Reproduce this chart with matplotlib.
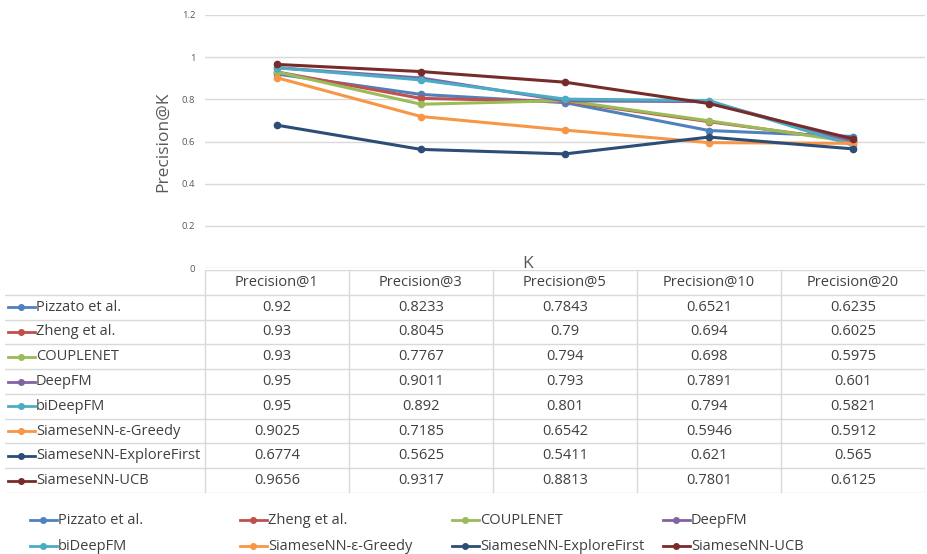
import matplotlib
matplotlib.use("Agg")
import matplotlib.pyplot as plt

categories = ["Precision@1", "Precision@3", "Precision@5", "Precision@10", "Precision@20"]
series_names = ["Pizzato et al.", "Zheng et al.", "COUPLENET", "DeepFM", "biDeepFM",
                "SiameseNN-\u03b5-Greedy", "SiameseNN-ExploreFirst", "SiameseNN-UCB"]
pizzato = [0.92, 0.8233, 0.7843, 0.6521, 0.6235]
zheng = [0.93, 0.8045, 0.79, 0.694, 0.6025]
couplenet = [0.93, 0.7767, 0.794, 0.698, 0.5975]
deepfm = [0.95, 0.9011, 0.793, 0.7891, 0.601]
bideepfm = [0.95, 0.892, 0.801, 0.794, 0.5821]
greedy = [0.9025, 0.7185, 0.6542, 0.5946, 0.5912]
explorefirst = [0.6774, 0.5625, 0.5411, 0.621, 0.565]
ucb = [0.9656, 0.9317, 0.8813, 0.7801, 0.6125]
series_values = [pizzato, zheng, couplenet, deepfm, bideepfm, greedy, explorefirst, ucb]
colors = ["#4F81BD", "#C0504D", "#9BBB59", "#8064A2", "#4BACC6", "#F79646", "#2C4D75", "#772C2A"]
yticks = [0, 0.2, 0.4, 0.6, 0.8, 1.0, 1.2]
ytick_labels = ["0", "0.2", "0.4", "0.6", "0.8", "1", "1.2"]

W, H = 927, 554
fig = plt.figure(figsize=(W / 100, H / 100), dpi=100)
fig.patch.set_facecolor("white")

def fbox(x0, y0, x1, y1):
    return [x0 / W, 1 - y1 / H, (x1 - x0) / W, (y1 - y0) / H]

font = ["Open Sans", "DejaVu Sans"]
txt_col = "#404040"
axis_col = "#595959"
grid_col = "#D9D9D9"

# main chart
ax = fig.add_axes(fbox(205, 15, 925, 268))
xs = list(range(len(categories)))
for name, vals, c in zip(series_names, series_values, colors):
    ax.plot(xs, vals, color=c, lw=2.2, marker="o", ms=4.5, label=name, zorder=3)
ax.set_xlim(-0.5, 4.5)
ax.set_ylim(0, 1.2)
ax.set_yticks(yticks)
ax.set_yticklabels(ytick_labels, fontfamily=font, fontsize=6.8, color=axis_col)
ax.set_xticks([])
ax.tick_params(axis="y", length=0, pad=7)
ax.grid(axis="y", color=grid_col, lw=1)
ax.set_axisbelow(True)
for s in ax.spines.values():
    s.set_visible(False)
ax.set_ylabel("Precision@K", fontfamily=font, fontsize=12.5, color=axis_col, labelpad=8)
fig.text(528 / W, 1 - 272 / H, "K", ha="center", va="bottom",
         fontfamily=font, fontsize=12.5, color=axis_col)

# data table
def px2x(px):
    return -0.5 + (px - 205) / 144.0

tab = fig.add_axes(fbox(5, 270, 925, 493))
tab.set_xlim(px2x(5), px2x(925))
nrows = len(series_names) + 1
tab.set_ylim(nrows, 0)
tab.axis("off")
tab.plot([px2x(205), px2x(925)], [0, 0], color=grid_col, lw=1)
for r in range(1, nrows + 1):
    tab.plot([px2x(5), px2x(925)], [r, r], color=grid_col, lw=1)
for ci in range(len(categories) + 1):
    tab.plot([ci - 0.5, ci - 0.5], [0, nrows], color=grid_col, lw=1)
for ci, cat in enumerate(categories):
    tab.text(ci, 0.5, cat, ha="center", va="center", fontfamily=font,
             fontsize=10.5, color=txt_col)
for ri, (name, vals, c) in enumerate(zip(series_names, series_values, colors)):
    y = ri + 1.5
    tab.plot([px2x(8), px2x(21), px2x(35)], [y, y, y], color=c, lw=2,
             marker="o", ms=4, markevery=[1])
    tab.text(px2x(36), y, name, ha="left", va="center", fontfamily=font,
             fontsize=10.5, color=txt_col)
    for ci, v in enumerate(vals):
        tab.text(ci, y, f"{v:g}", ha="center", va="center", fontfamily=font,
                 fontsize=10.5, color=txt_col)

# legend
leg = fig.add_axes([0, 0, 1, 60 / H])
leg.set_xlim(0, W)
leg.set_ylim(H, H - 60)
leg.axis("off")
col_x = [30, 240, 452, 663]
row_y = [520, 546]
for i, (name, c) in enumerate(zip(series_names, colors)):
    x0 = col_x[i % 4]
    y = row_y[i // 4]
    leg.plot([x0, x0 + 13.5, x0 + 27], [y, y, y], color=c, lw=2, marker="o", ms=4, markevery=[1])
    leg.text(x0 + 28, y, name, ha="left", va="center", fontfamily=font,
             fontsize=10.5, color=txt_col)

fig.savefig("out.png", dpi=100, facecolor="white")
